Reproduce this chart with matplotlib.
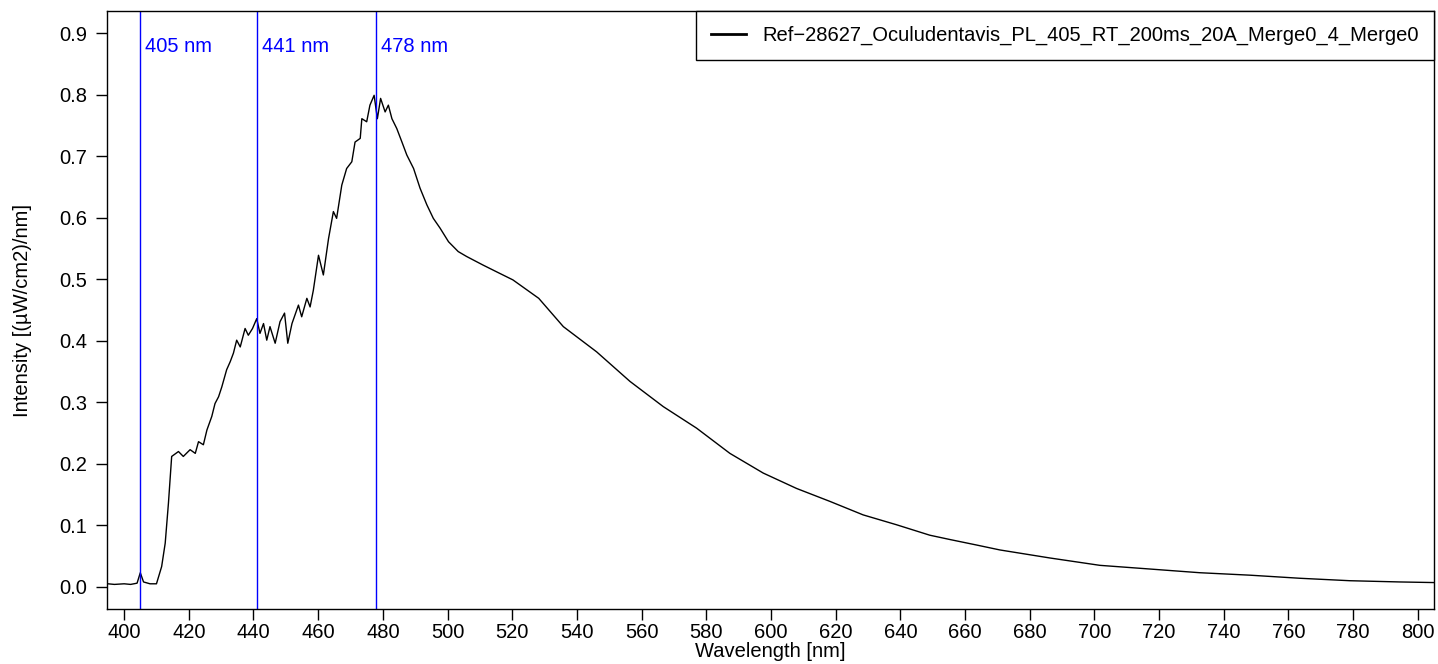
import matplotlib
matplotlib.use("Agg")
import matplotlib.pyplot as plt

# spectrum (wavelength nm, intensity)
wavelength = [395, 397, 400, 402, 404, 405, 406, 408, 410, 411.6, 412.7, 413.7,
              414.7, 416.8, 418.3, 420.4, 422.0, 423.0, 424.5, 425.6, 427.1, 428.1,
              429.2, 430.2, 431.7, 432.8, 433.8, 434.8, 435.9, 437.4, 438.4, 439.7,
              441.0, 442.0, 443.1, 444.1, 445.1, 446.7, 448.2, 449.6, 450.6, 451.9,
              453.9, 454.9, 456.5, 457.5, 458.5, 460.1, 461.6, 463.2, 464.7, 465.7,
              467.3, 468.8, 470.4, 471.4, 473.0, 473.5, 475.0, 476.0, 477.3, 478.3,
              479.3, 480.7, 481.7, 482.8, 484.3, 485.9, 487.4, 489.5, 491.5, 493.6,
              495.6, 497.7, 500.3, 503.3, 505.9, 511, 515.2, 520.2, 528.2,
              535.8, 546.1, 556.4, 566.7, 577.0, 587.3, 597.6, 607.9, 618.2, 628.5,
              638.8, 649.1, 655.3, 663.6, 670.8, 686.2, 701.7, 717.2, 732.6, 748.1,
              763.5, 779.0, 794.4, 805]
intensity = [0.005, 0.004, 0.005, 0.004, 0.006, 0.023, 0.008, 0.005, 0.005, 0.033,
             0.071, 0.136,
             0.212, 0.220, 0.212, 0.223, 0.217, 0.236, 0.231, 0.255, 0.277, 0.298,
             0.309, 0.325, 0.353, 0.366, 0.380, 0.401, 0.390, 0.420, 0.409, 0.420,
             0.436, 0.412, 0.428, 0.401, 0.423, 0.396, 0.431, 0.445, 0.396, 0.428,
             0.458, 0.439, 0.469, 0.455, 0.482, 0.539, 0.507, 0.566, 0.610, 0.599,
             0.653, 0.680, 0.691, 0.723, 0.729, 0.761, 0.756, 0.783, 0.799, 0.761,
             0.794, 0.772, 0.783, 0.761, 0.745, 0.723, 0.702, 0.680, 0.648, 0.621,
             0.599, 0.583, 0.561, 0.545, 0.537, 0.523, 0.512, 0.499, 0.469,
             0.423, 0.382, 0.334, 0.293, 0.258, 0.217, 0.185, 0.160, 0.139, 0.117,
             0.101, 0.084, 0.077, 0.068, 0.060, 0.047, 0.035, 0.029, 0.023, 0.019,
             0.014, 0.010, 0.008, 0.007]
series_name = "Ref\u221228627_Oculudentavis_PL_405_RT_200ms_20A_Merge0_4_Merge0"

marker_nm = [405, 441, 478]

plt.rcParams['font.family'] = ['Liberation Sans', 'DejaVu Sans']
fs = 14.5

fig = plt.figure(figsize=(14.38, 6.64), dpi=100)
ax = fig.add_axes([0.0744, 0.0828, 0.9228, 0.9006])

ax.plot(wavelength, intensity, color='black', lw=1.0, label=series_name)

for nm in marker_nm:
    ax.axvline(nm, color='blue', lw=1)
    ax.text(nm + 1.5, 0.879, f"{nm} nm", color='blue', va='center', ha='left', fontsize=fs)

ax.set_xlim(394.7, 805)
ax.set_ylim(-0.036, 0.936)
ax.set_xticks(range(400, 801, 20))
ax.set_yticks([i / 10 for i in range(10)])
ax.yaxis.set_major_formatter(matplotlib.ticker.FormatStrFormatter('%.1f'))
ax.tick_params(direction='out', length=8, width=1, labelsize=fs)
ax.tick_params(axis='x', pad=2)
ax.tick_params(axis='y', pad=6)
for s in ax.spines.values():
    s.set_linewidth(1)

ax.set_xlabel("Wavelength [nm]", fontsize=fs, labelpad=0)
ax.set_ylabel("Intensity [(\u00b5W/cm2)/nm]", fontsize=fs, labelpad=20)

leg = ax.legend(loc='upper right', borderaxespad=0, fancybox=False, framealpha=1,
                edgecolor='black', handlelength=1.75, handletextpad=0.8, fontsize=fs,
                borderpad=0.75)
leg.get_frame().set_linewidth(1)
for l in leg.get_lines():
    l.set_linewidth(2)

fig.savefig("out.png", dpi=100)
